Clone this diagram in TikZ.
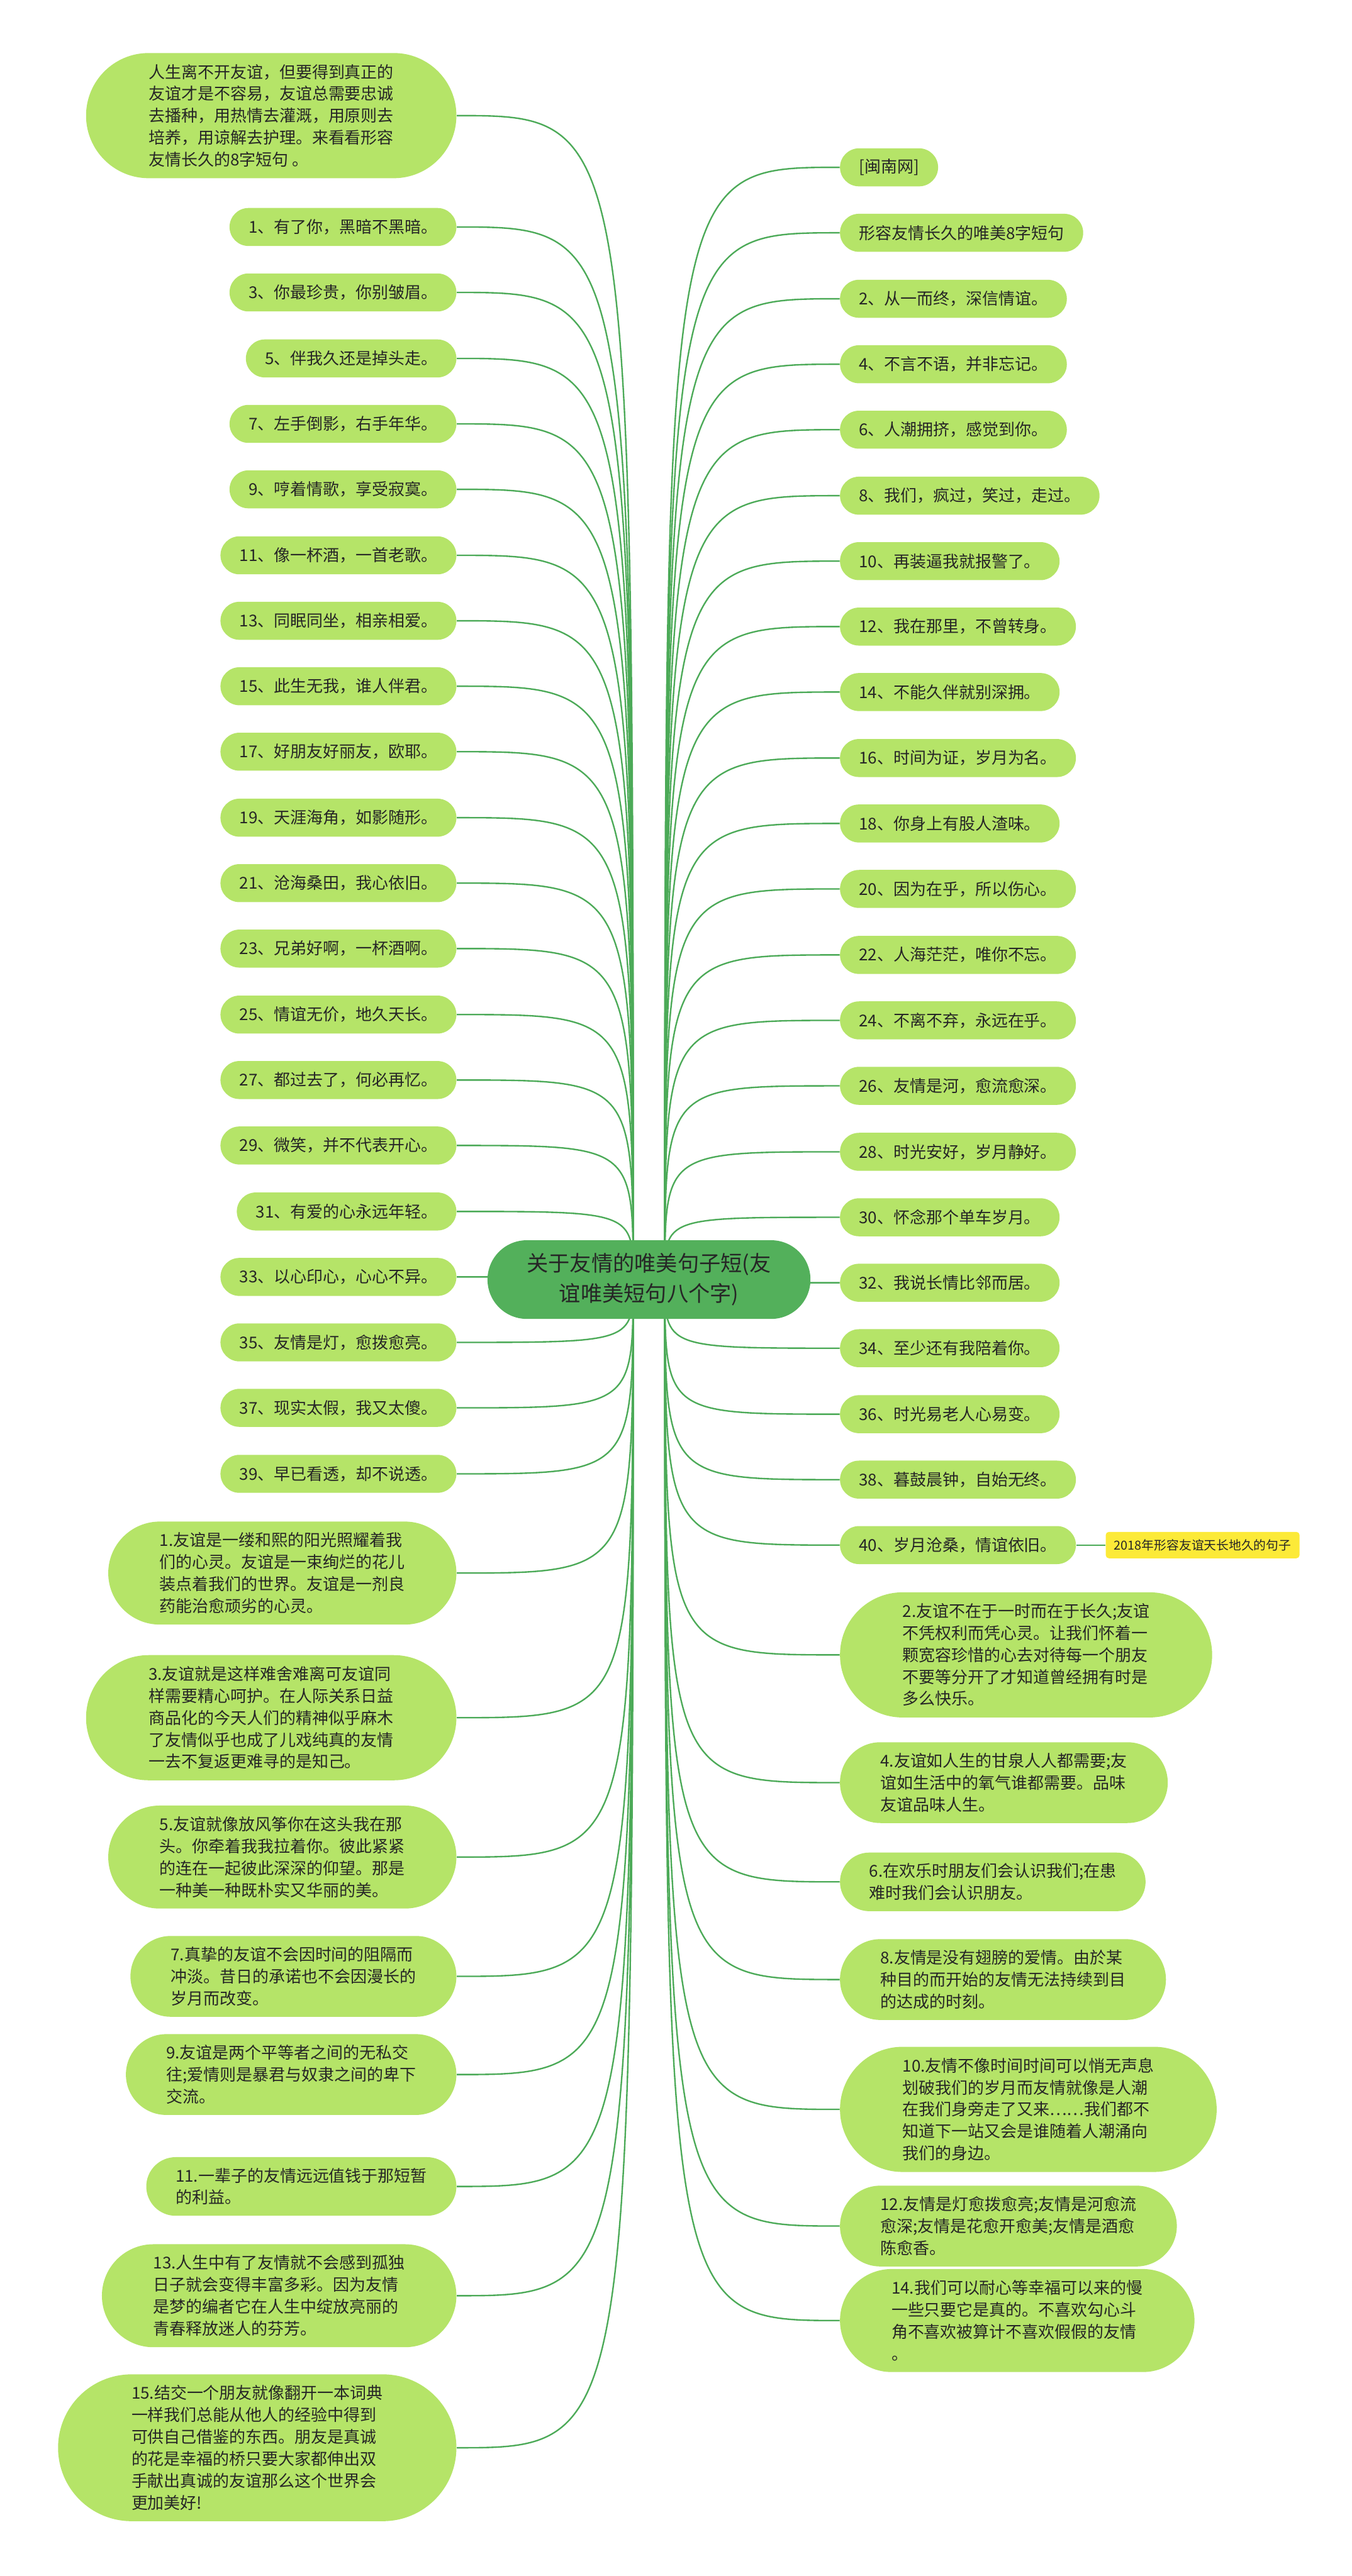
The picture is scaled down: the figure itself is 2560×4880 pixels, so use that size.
\documentclass[tikz,border=0pt]{standalone}
\usepackage{fontspec}
\usepackage{xcolor}
\usepackage{tikz}
\usetikzlibrary{positioning,backgrounds}
\newfontfamily\cjk{Noto Sans CJK SC}
\definecolor{leafgreen}{RGB}{181,228,104}
\definecolor{rootgreen}{RGB}{83,176,91}
\definecolor{linegreen}{RGB}{76,170,88}
\definecolor{ink}{RGB}{38,38,38}
\definecolor{tagyellow}{RGB}{252,234,56}

\begin{document}
\begin{tikzpicture}[x=0.01cm, y=-0.01cm, font=\cjk, text=ink,
  leaf/.style={rectangle, fill=leafgreen, align=left, rounded corners=0.36cm, minimum height=0.72cm, inner xsep=0.36cm, inner ysep=0pt, font=\cjk\fontsize{8.8pt}{11.8pt}\selectfont},
  para/.style={leaf, minimum height=#1, rounded corners=#1/2, inner xsep=#1/2},
  root/.style={rectangle, fill=rootgreen, align=center, rounded corners=0.745cm, minimum height=1.49cm, inner xsep=0.745cm, inner ysep=0pt, font=\cjk\fontsize{11.6pt}{16.2pt}\selectfont},
  tag/.style={fill=tagyellow, rounded corners=0.06cm, inner xsep=0.16cm, inner ysep=0pt, minimum height=0.5cm, font=\cjk\fontsize{6.7pt}{7pt}\selectfont},
  stem/.style={draw=linegreen, line width=0.8pt},
  link/.style={stem, to path={.. controls (\tikztostart |- \tikztotarget) .. (\tikztotarget)}}]
\useasboundingbox (0,0) rectangle (2560,4880);

% centre
\node[root] (root) at (1229,2424) {关于友情的唯美句子短(友\\谊唯美短句八个字)};
\coordinate (lhub) at (1199,2424);
\coordinate (rhub) at (1259,2424);

% left side
\node[para=2.37cm, anchor=east] (intro) at (865,219) {人生离不开友谊，但要得到真正的\\友谊才是不容易，友谊总需要忠诚\\去播种，用热情去灌溉，用原则去\\培养，用谅解去护理。来看看形容\\友情长久的8字短句 。};
\node[leaf, anchor=east] (l1) at (865,430) {1、有了你，黑暗不黑暗。};
\node[leaf, anchor=east] (l3) at (865,554) {3、你最珍贵，你别皱眉。};
\node[leaf, anchor=east] (l5) at (865,679) {5、伴我久还是掉头走。};
\node[leaf, anchor=east] (l7) at (865,803) {7、左手倒影，右手年华。};
\node[leaf, anchor=east] (l9) at (865,927) {9、哼着情歌，享受寂寞。};
\node[leaf, anchor=east] (l11) at (865,1052) {11、像一杯酒，一首老歌。};
\node[leaf, anchor=east] (l13) at (865,1176) {13、同眠同坐，相亲相爱。};
\node[leaf, anchor=east] (l15) at (865,1300) {15、此生无我，谁人伴君。};
\node[leaf, anchor=east] (l17) at (865,1424) {17、好朋友好丽友，欧耶。};
\node[leaf, anchor=east] (l19) at (865,1549) {19、天涯海角，如影随形。};
\node[leaf, anchor=east] (l21) at (865,1673) {21、沧海桑田，我心依旧。};
\node[leaf, anchor=east] (l23) at (865,1797) {23、兄弟好啊，一杯酒啊。};
\node[leaf, anchor=east] (l25) at (865,1922) {25、情谊无价，地久天长。};
\node[leaf, anchor=east] (l27) at (865,2046) {27、都过去了，何必再忆。};
\node[leaf, anchor=east] (l29) at (865,2170) {29、微笑，并不代表开心。};
\node[leaf, anchor=east] (l31) at (865,2295) {31、有爱的心永远年轻。};
\node[leaf, anchor=east] (l33) at (865,2419) {33、以心印心，心心不异。};
\node[leaf, anchor=east] (l35) at (865,2543) {35、友情是灯，愈拨愈亮。};
\node[leaf, anchor=east] (l37) at (865,2667) {37、现实太假，我又太傻。};
\node[leaf, anchor=east] (l39) at (865,2792) {39、早已看透，却不说透。};
\node[para=1.95cm, anchor=east] (p1) at (865,2980) {1.友谊是一缕和熙的阳光照耀着我\\们的心灵。友谊是一束绚烂的花儿\\装点着我们的世界。友谊是一剂良\\药能治愈顽劣的心灵。};
\node[para=2.37cm, anchor=east] (p3) at (865,3254) {3.友谊就是这样难舍难离可友谊同\\样需要精心呵护。在人际关系日益\\商品化的今天人们的精神似乎麻木\\了友情似乎也成了儿戏纯真的友情\\一去不复返更难寻的是知己。};
\node[para=1.95cm, anchor=east] (p5) at (865,3518) {5.友谊就像放风筝你在这头我在那\\头。你牵着我我拉着你。彼此紧紧\\的连在一起彼此深深的仰望。那是\\一种美一种既朴实又华丽的美。};
\node[para=1.53cm, anchor=east] (p7) at (865,3744) {7.真挚的友谊不会因时间的阻隔而\\冲淡。昔日的承诺也不会因漫长的\\岁月而改变。};
\node[para=1.53cm, anchor=east] (p9) at (865,3930) {9.友谊是两个平等者之间的无私交\\往;爱情则是暴君与奴隶之间的卑下\\交流。};
\node[para=1.11cm, anchor=east] (p11) at (865,4142) {11.一辈子的友情远远值钱于那短暂\\的利益。};
\node[para=1.95cm, anchor=east] (p13) at (865,4349) {13.人生中有了友情就不会感到孤独\\日子就会变得丰富多彩。因为友情\\是梦的编者它在人生中绽放亮丽的\\青春释放迷人的芬芳。};
\node[para=2.78cm, anchor=east] (p15) at (865,4637) {15.结交一个朋友就像翻开一本词典\\一样我们总能从他人的经验中得到\\可供自己借鉴的东西。朋友是真诚\\的花是幸福的桥只要大家都伸出双\\手献出真诚的友谊那么这个世界会\\更加美好!};

% right side
\node[leaf, anchor=west] (r0) at (1590,317) {[闽南网]};
\node[leaf, anchor=west] (rt) at (1590,441) {形容友情长久的唯美8字短句};
\node[leaf, anchor=west] (r2) at (1590,566) {2、从一而终，深信情谊。};
\node[leaf, anchor=west] (r4) at (1590,690) {4、不言不语，并非忘记。};
\node[leaf, anchor=west] (r6) at (1590,814) {6、人潮拥挤，感觉到你。};
\node[leaf, anchor=west] (r8) at (1590,939) {8、我们，疯过，笑过，走过。};
\node[leaf, anchor=west] (r10) at (1590,1063) {10、再装逼我就报警了。};
\node[leaf, anchor=west] (r12) at (1590,1187) {12、我在那里，不曾转身。};
\node[leaf, anchor=west] (r14) at (1590,1311) {14、不能久伴就别深拥。};
\node[leaf, anchor=west] (r16) at (1590,1436) {16、时间为证，岁月为名。};
\node[leaf, anchor=west] (r18) at (1590,1560) {18、你身上有股人渣味。};
\node[leaf, anchor=west] (r20) at (1590,1684) {20、因为在乎，所以伤心。};
\node[leaf, anchor=west] (r22) at (1590,1809) {22、人海茫茫，唯你不忘。};
\node[leaf, anchor=west] (r24) at (1590,1933) {24、不离不弃，永远在乎。};
\node[leaf, anchor=west] (r26) at (1590,2057) {26、友情是河，愈流愈深。};
\node[leaf, anchor=west] (r28) at (1590,2182) {28、时光安好，岁月静好。};
\node[leaf, anchor=west] (r30) at (1590,2306) {30、怀念那个单车岁月。};
\node[leaf, anchor=west] (r32) at (1590,2430) {32、我说长情比邻而居。};
\node[leaf, anchor=west] (r34) at (1590,2554) {34、至少还有我陪着你。};
\node[leaf, anchor=west] (r36) at (1590,2679) {36、时光易老人心易变。};
\node[leaf, anchor=west] (r38) at (1590,2803) {38、暮鼓晨钟，自始无终。};
\node[leaf, anchor=west] (r40) at (1590,2927) {40、岁月沧桑，情谊依旧。};
\node[tag, right=0.55cm of r40] (tag) {2018年形容友谊天长地久的句子};
\node[para=2.37cm, anchor=west] (q2) at (1590,3135) {2.友谊不在于一时而在于长久;友谊\\不凭权利而凭心灵。让我们怀着一\\颗宽容珍惜的心去对待每一个朋友\\不要等分开了才知道曾经拥有时是\\多么快乐。};
\node[para=1.53cm, anchor=west] (q4) at (1590,3377) {4.友谊如人生的甘泉人人都需要;友\\谊如生活中的氧气谁都需要。品味\\友谊品味人生。};
\node[para=1.11cm, anchor=west] (q6) at (1590,3565) {6.在欢乐时朋友们会认识我们;在患\\难时我们会认识朋友。};
\node[para=1.53cm, anchor=west] (q8) at (1590,3750) {8.友情是没有翅膀的爱情。由於某\\种目的而开始的友情无法持续到目\\的达成的时刻。};
\node[para=2.37cm, anchor=west] (q10) at (1590,3996) {10.友情不像时间时间可以悄无声息\\划破我们的岁月而友情就像是人潮\\在我们身旁走了又来……我们都不\\知道下一站又会是谁随着人潮涌向\\我们的身边。};
\node[para=1.53cm, anchor=west] (q12) at (1590,4217) {12.友情是灯愈拨愈亮;友情是河愈流\\愈深;友情是花愈开愈美;友情是酒愈\\陈愈香。};
\node[para=1.95cm, anchor=west] (q14) at (1590,4396) {14.我们可以耐心等幸福可以来的慢\\一些只要它是真的。不喜欢勾心斗\\角不喜欢被算计不喜欢假假的友情\\。};

% connectors
\begin{scope}[on background layer]
\draw[link] (lhub) to (intro.east); \draw[link] (lhub) to (l1.east); \draw[link] (lhub) to (l3.east);
\draw[link] (lhub) to (l5.east); \draw[link] (lhub) to (l7.east); \draw[link] (lhub) to (l9.east);
\draw[link] (lhub) to (l11.east); \draw[link] (lhub) to (l13.east); \draw[link] (lhub) to (l15.east);
\draw[link] (lhub) to (l17.east); \draw[link] (lhub) to (l19.east); \draw[link] (lhub) to (l21.east);
\draw[link] (lhub) to (l23.east); \draw[link] (lhub) to (l25.east); \draw[link] (lhub) to (l27.east);
\draw[link] (lhub) to (l29.east); \draw[link] (lhub) to (l31.east); \draw[link] (lhub) to (l33.east);
\draw[link] (lhub) to (l35.east); \draw[link] (lhub) to (l37.east); \draw[link] (lhub) to (l39.east);
\draw[link] (lhub) to (p1.east); \draw[link] (lhub) to (p3.east); \draw[link] (lhub) to (p5.east);
\draw[link] (lhub) to (p7.east); \draw[link] (lhub) to (p9.east); \draw[link] (lhub) to (p11.east);
\draw[link] (lhub) to (p13.east); \draw[link] (lhub) to (p15.east);
\draw[link] (rhub) to (r0.west); \draw[link] (rhub) to (rt.west); \draw[link] (rhub) to (r2.west);
\draw[link] (rhub) to (r4.west); \draw[link] (rhub) to (r6.west); \draw[link] (rhub) to (r8.west);
\draw[link] (rhub) to (r10.west); \draw[link] (rhub) to (r12.west); \draw[link] (rhub) to (r14.west);
\draw[link] (rhub) to (r16.west); \draw[link] (rhub) to (r18.west); \draw[link] (rhub) to (r20.west);
\draw[link] (rhub) to (r22.west); \draw[link] (rhub) to (r24.west); \draw[link] (rhub) to (r26.west);
\draw[link] (rhub) to (r28.west); \draw[link] (rhub) to (r30.west); \draw[link] (rhub) to (r32.west);
\draw[link] (rhub) to (r34.west); \draw[link] (rhub) to (r36.west); \draw[link] (rhub) to (r38.west);
\draw[link] (rhub) to (r40.west);
\draw[link] (rhub) to (q2.west); \draw[link] (rhub) to (q4.west); \draw[link] (rhub) to (q6.west);
\draw[link] (rhub) to (q8.west); \draw[link] (rhub) to (q10.west); \draw[link] (rhub) to (q12.west);
\draw[link] (rhub) to (q14.west);
\draw[stem] (r40.east) -- (tag.west);
\end{scope}
\end{tikzpicture}
\end{document}
